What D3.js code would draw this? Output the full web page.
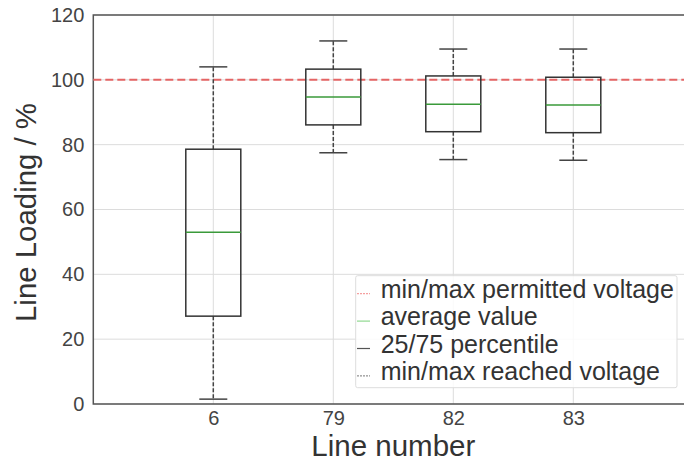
<!DOCTYPE html>
<html><head><meta charset="utf-8">
<script src="https://cdn.jsdelivr.net/npm/d3@7"></script>
<style>body{margin:0;background:#fff}svg{display:block}text{font-family:"Liberation Sans",Arial,sans-serif}</style>
</head><body><svg id="c" width="684" height="461"></svg>
<script>
const categories = ["6","79","82","83"];
const whiskerLow = [1.5, 77.5, 75.4, 75.2];
const q1 = [27.1, 86.1, 84.0, 83.7];
const medians = [53.0, 94.7, 92.5, 92.2];
const q3 = [78.6, 103.3, 101.2, 100.8];
const whiskerHigh = [104.0, 112.0, 109.5, 109.5];
const yTicks = [0, 20, 40, 60, 80, 100, 120];
const limit = [100];
const legendLabels = ["min/max permitted voltage","average value","25/75 percentile","min/max reached voltage"];

const svg = d3.select("#c");
const L = 93.3, T = 15, B = 404, R = 693.3;
const x = d3.scaleLinear().domain([0, 5]).range([L, R]);
const y = d3.scaleLinear().domain([0, 120]).range([B, T]);
const pos = categories.map((c, i) => i + 1);

// grid
svg.append("g").selectAll("line").data(yTicks).join("line")
  .attr("x1", L).attr("x2", R).attr("y1", d => y(d)).attr("y2", d => y(d))
  .attr("stroke", "#dcdcdc").attr("stroke-width", 1);
svg.append("g").selectAll("line").data(pos).join("line")
  .attr("x1", d => x(d)).attr("x2", d => x(d)).attr("y1", T).attr("y2", B)
  .attr("stroke", "#dcdcdc").attr("stroke-width", 1);

// axes
const yAxis = d3.axisLeft(y).tickValues(yTicks).tickSize(0).tickPadding(9);
const gy = svg.append("g").attr("transform", `translate(${L},0)`).call(yAxis);
gy.select(".domain").remove();
gy.selectAll("text").attr("font-size", 20).attr("fill", "#444").attr("font-family", "Liberation Sans, Arial, sans-serif");
const xAxis = d3.axisBottom(x).tickValues(pos).tickFormat((d, i) => categories[i]).tickSize(0).tickPadding(6.5);
const gx = svg.append("g").attr("transform", `translate(0,${B})`).call(xAxis);
gx.select(".domain").remove();
gx.selectAll("text").attr("font-size", 20).attr("fill", "#444").attr("font-family", "Liberation Sans, Arial, sans-serif");

// frame
svg.append("rect").attr("x", L).attr("y", T).attr("width", R - L).attr("height", B - T)
  .attr("fill", "none").attr("stroke", "#555").attr("stroke-width", 1.5);

// limit line
svg.selectAll(".lim").data(limit).join("line")
  .attr("x1", L).attr("x2", R).attr("y1", d => y(d)).attr("y2", d => y(d))
  .attr("stroke", "#e56565").attr("stroke-width", 2).attr("stroke-dasharray", "8,4");

// boxes
const bw = 55, cw = 28;
const g = svg.append("g").selectAll("g").data(pos).join("g");
g.append("line").attr("x1", d => x(d)).attr("x2", d => x(d))
  .attr("y1", (d, i) => y(q3[i])).attr("y2", (d, i) => y(whiskerHigh[i]))
  .attr("stroke", "#444").attr("stroke-width", 1.5).attr("stroke-dasharray", "4,2");
g.append("line").attr("x1", d => x(d)).attr("x2", d => x(d))
  .attr("y1", (d, i) => y(q1[i])).attr("y2", (d, i) => y(whiskerLow[i]))
  .attr("stroke", "#444").attr("stroke-width", 1.5).attr("stroke-dasharray", "4,2");
g.append("line").attr("x1", d => x(d) - cw / 2).attr("x2", d => x(d) + cw / 2)
  .attr("y1", (d, i) => y(whiskerHigh[i])).attr("y2", (d, i) => y(whiskerHigh[i]))
  .attr("stroke", "#444").attr("stroke-width", 1.5);
g.append("line").attr("x1", d => x(d) - cw / 2).attr("x2", d => x(d) + cw / 2)
  .attr("y1", (d, i) => y(whiskerLow[i])).attr("y2", (d, i) => y(whiskerLow[i]))
  .attr("stroke", "#444").attr("stroke-width", 1.5);
g.append("rect").attr("x", d => x(d) - bw / 2).attr("width", bw)
  .attr("y", (d, i) => y(q3[i])).attr("height", (d, i) => y(q1[i]) - y(q3[i]))
  .attr("fill", "none").attr("stroke", "#333").attr("stroke-width", 1.5);
g.append("line").attr("x1", d => x(d) - bw / 2).attr("x2", d => x(d) + bw / 2)
  .attr("y1", (d, i) => y(medians[i])).attr("y2", (d, i) => y(medians[i]))
  .attr("stroke", "#3a9a3a").attr("stroke-width", 1.5);

// legend
const lg = svg.append("g");
lg.append("rect").attr("x", 355.7).attr("y", 275.7).attr("width", 321.3).attr("height", 112)
  .attr("rx", 2).attr("fill", "#fff").attr("fill-opacity", 0.85).attr("stroke", "#ddd").attr("stroke-width", 1);
const hStyles = [
  {c: "#f5a0a0", w: 1.2, d: "2,1"},
  {c: "#90d890", w: 1.2, d: null},
  {c: "#555", w: 1.2, d: null},
  {c: "#777", w: 1, d: "2,1"}
];
const rows = lg.selectAll("g").data(legendLabels).join("g")
  .attr("transform", (d, i) => `translate(0,${297.7 + i * 27.4})`);
rows.append("line").attr("x1", 357).attr("x2", 370).attr("y1", -4).attr("y2", -4)
  .attr("stroke", (d, i) => hStyles[i].c).attr("stroke-width", (d, i) => hStyles[i].w)
  .attr("stroke-dasharray", (d, i) => hStyles[i].d);
rows.append("text").attr("x", 380.7).attr("y", 0).attr("font-size", 25).attr("fill", "#333").text(d => d);

// axis labels
svg.append("text").attr("x", (L + R) / 2).attr("y", 456).attr("text-anchor", "middle")
  .attr("font-size", 29.5).attr("fill", "#333").text("Line number");
svg.append("text").attr("transform", `translate(36,${(T + B) / 2 + 3}) rotate(-90)`).attr("text-anchor", "middle")
  .attr("font-size", 29.4).attr("fill", "#333").text("Line Loading / %");
</script></body></html>
